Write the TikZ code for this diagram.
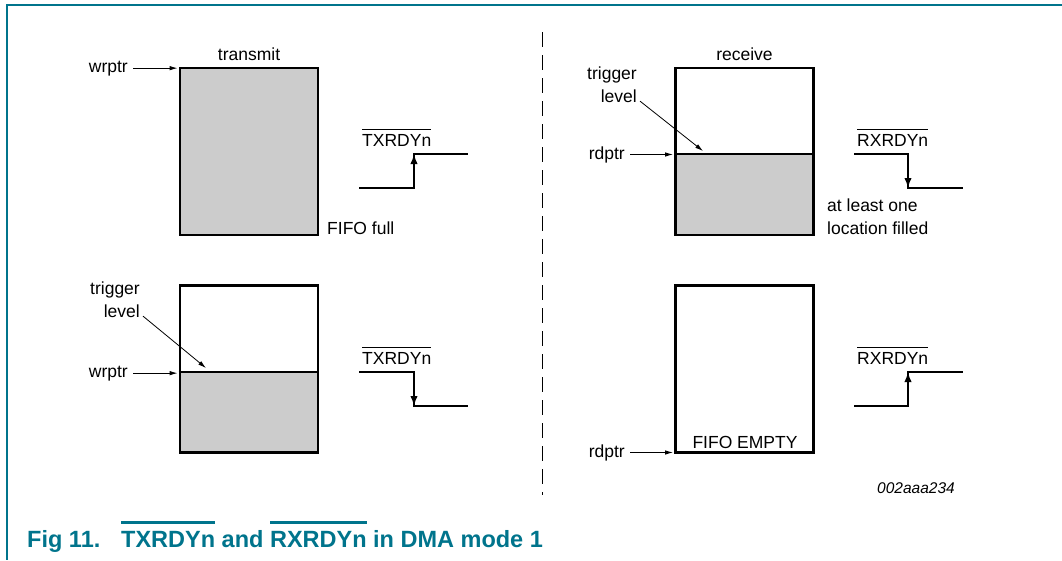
\documentclass[tikz,border=0pt]{standalone}
\usepackage{fontspec}
\setsansfont{Liberation Sans}
\usepackage{tikz}
\usetikzlibrary{arrows.meta,positioning}
\pgfdeclarelayer{background}
\pgfsetlayers{background,main}
\definecolor{fifogray}{RGB}{204,204,204}
\definecolor{nxpteal}{RGB}{0,116,140}
\tikzstyle{fifo}=[draw, line width=2.8pt, minimum width=138pt, minimum height=167pt, inner sep=0pt]
\tikzstyle{lbl}=[inner sep=1pt]
\tikzstyle{ptr}=[->, line width=0.9pt, shorten <=4pt, shorten >=1pt]
\tikzstyle{sig}=[line width=2.6pt]
\tikzstyle{sigtip}=[-{Latex[length=10pt,width=7.5pt]}, line width=2.6pt]
\tikzstyle{lvl}=[line width=2.2pt]
\tikzset{>={Latex[length=8pt,width=4.5pt]}}
\def\ux{1pt}
\def\uy{-1pt}
% overlined signal name: rule, gap, text
\newcommand{\ovl}[3]{\vbox{\hrule height #1\kern #2\hbox{#3}}}

\begin{document}
\begin{tikzpicture}[x=\ux,y=\uy, font=\sffamily\fontsize{17.5}{23}\selectfont]
	\useasboundingbox (0,0) rectangle (1062,560);
	\draw[nxpteal, line width=1.4pt] (1062,5) -- (7,5) -- (7,560);
	\draw[line width=0.9pt, dash pattern=on 15pt off 8pt] (542,32) -- (542,495);

	% transmit: FIFO full
	\node[fifo, fill=fifogray] (txfull) at (249,151.5) {};
	\node[lbl, above=5pt of txfull] (txname) {transmit};
	\node[lbl, anchor=base east] (wrA) at (129,72) {wrptr};
	\draw[ptr] (wrA.east) -- (wrA.east -| txfull.west);
	\node[lbl, anchor=base west] (fullA) at (326,234) {FIFO full};
	\coordinate (txA0) at (359,188);
	\coordinate (txA1) at (414,188);
	\coordinate (txA2) at (414,154);
	\coordinate (txA3) at (468,154);
	\draw[sig] (txA0) -- (txA1) -- (txA2) -- (txA3);
	\draw[sigtip] (txA1) -- (txA2);
	\node[lbl, anchor=base west] (txAlbl) at (361,146) {\ovl{0.9pt}{4.5pt}{TXRDYn}};

	% transmit: trigger level
	\node[fifo] (txtrig) at (249,369) {};
	\path (txtrig.west) ++(0,3) coordinate (txBlvl);
	\begin{pgfonlayer}{background}
		\fill[fifogray] (txBlvl) rectangle (txtrig.south east);
	\end{pgfonlayer}
	\draw[lvl] (txBlvl) -- (txBlvl -| txtrig.east);
	\node[lbl, align=right, anchor=east] (trigB) at (141,300) {trigger\\level};
	\coordinate (txBtip) at (206,368);
	\draw[->, line width=0.8pt] ([shift={(2,-3)}]trigB.south east) -- (txBtip);
	\node[lbl, anchor=base east] (wrB) at (129,377) {wrptr};
	\draw[ptr] (wrB.east) -- (wrB.east -| txtrig.west);
	\coordinate (txB0) at (359,372);
	\coordinate (txB1) at (414,372);
	\coordinate (txB2) at (414,406);
	\coordinate (txB3) at (468,406);
	\draw[sig] (txB0) -- (txB1) -- (txB2) -- (txB3);
	\draw[sigtip] (txB1) -- (txB2);
	\node[lbl, anchor=base west] (txBlbl) at (361,364) {\ovl{0.9pt}{4.5pt}{TXRDYn}};

	% receive: at least one location filled
	\node[fifo] (rxfill) at (744.5,151.5) {};
	\node[lbl, above=5pt of rxfill] (rxname) {receive};
	\path (rxfill.west) ++(0,2.5) coordinate (rxAlvl);
	\begin{pgfonlayer}{background}
		\fill[fifogray] (rxAlvl) rectangle (rxfill.south east);
	\end{pgfonlayer}
	\draw[lvl] (rxAlvl) -- (rxAlvl -| rxfill.east);
	\node[lbl, align=right, anchor=east] (trigA) at (638,85) {trigger\\level};
	\coordinate (rxAtip) at (703,151);
	\draw[->, line width=0.8pt] ([shift={(2,-3)}]trigA.south east) -- (rxAtip);
	\node[lbl, anchor=base east] (rdA) at (626,159) {rdptr};
	\draw[ptr] (rdA.east) -- (rdA.east -| rxfill.west);
	\node[lbl, align=left, anchor=base west] (oneA) at (826,234) {at least one\\location filled};
	\coordinate (rxA0) at (854,154);
	\coordinate (rxA1) at (908,154);
	\coordinate (rxA2) at (908,188);
	\coordinate (rxA3) at (963,188);
	\draw[sig] (rxA0) -- (rxA1) -- (rxA2) -- (rxA3);
	\draw[sigtip] (rxA1) -- (rxA2);
	\node[lbl, anchor=base west] (rxAlbl) at (856,146) {\ovl{0.9pt}{4.5pt}{RXRDYn}};

	% receive: FIFO EMPTY
	\node[fifo] (rxempty) at (744.5,369) {};
	\node[lbl, anchor=base] (emptyB) at (745,448) {FIFO EMPTY};
	\node[lbl, anchor=base east] (rdB) at (626,457) {rdptr};
	\draw[ptr] (rdB.east) -- (rdB.east -| rxempty.west);
	\coordinate (rxB0) at (854,406);
	\coordinate (rxB1) at (908,406);
	\coordinate (rxB2) at (908,372);
	\coordinate (rxB3) at (963,372);
	\draw[sig] (rxB0) -- (rxB1) -- (rxB2) -- (rxB3);
	\draw[sigtip] (rxB1) -- (rxB2);
	\node[lbl, anchor=base west] (rxBlbl) at (856,364) {\ovl{0.9pt}{4.5pt}{RXRDYn}};

	\node[lbl, anchor=base west, font=\sffamily\itshape\fontsize{15.5}{18}\selectfont] (figid) at (876,493) {002aaa234};

	% caption
	\node[inner sep=0pt, anchor=base west, text=nxpteal, font=\sffamily\bfseries\fontsize{23.5}{28}\selectfont] (figno) at (27,547) {Fig 11.};
	\node[inner sep=0pt, anchor=base west, text=nxpteal, font=\sffamily\bfseries\fontsize{23.5}{28}\selectfont] (figtitle) at (121,547) {\ovl{2.6pt}{7pt}{TXRDYn} and \ovl{2.6pt}{7pt}{RXRDYn} in DMA mode 1};
\end{tikzpicture}
\end{document}
